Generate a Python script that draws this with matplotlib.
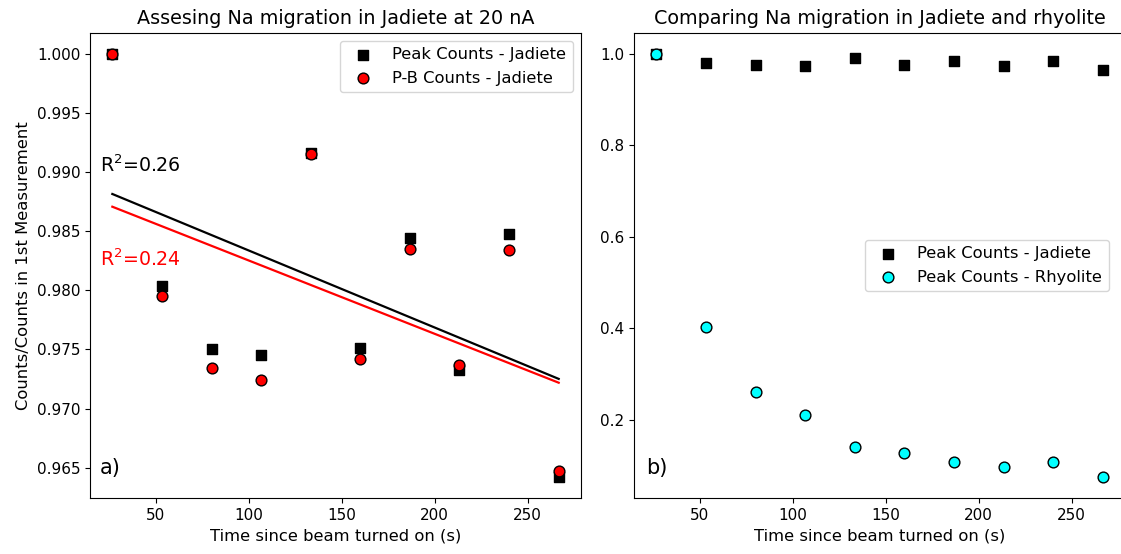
import numpy as np
import matplotlib
matplotlib.use("Agg")
import matplotlib.pyplot as plt

# Time since the beam was turned on (s)
time_s = [26.67, 53.33, 80.0, 106.67, 133.33, 160.0, 186.67, 213.33, 240.0, 266.67]

# Normalised counts (counts / counts in 1st measurement)
peak_jadiete = [1.0000, 0.9804, 0.9750, 0.9745, 0.9916, 0.9751, 0.9844, 0.9733, 0.9848, 0.9642]
pb_jadiete = [1.0000, 0.9795, 0.9734, 0.9724, 0.9915, 0.9742, 0.9835, 0.9737, 0.9834, 0.9647]
peak_rhyolite = [1.000, 0.402, 0.261, 0.211, 0.139, 0.126, 0.107, 0.097, 0.107, 0.074]

r2_peak_label = "R$^2$=0.26"
r2_pb_label = "R$^2$=0.24"

TITLE_FS = 13.8
LABEL_FS = 11.8
LEGEND_FS = 11.8
TICK_FS = 11

fig = plt.figure(figsize=(11.21, 5.54), dpi=100)
ax1 = fig.add_axes([0.0803, 0.1005, 0.438, 0.8405])
ax2 = fig.add_axes([0.5656, 0.1005, 0.438, 0.8405])

t = np.array(time_s)

# Panel a: peak vs peak-minus-background counts with linear fits
ax1.scatter(time_s, peak_jadiete, marker="s", s=60, color="black",
            edgecolors="black", label="Peak Counts - Jadiete", zorder=3)
ax1.scatter(time_s, pb_jadiete, marker="o", s=60, facecolors="red",
            edgecolors="black", label="P-B Counts - Jadiete", zorder=4)

for vals, col in ((peak_jadiete, "black"), (pb_jadiete, "red")):
    slope, intercept = np.polyfit(t, np.array(vals), 1)
    ax1.plot(t, slope * t + intercept, color=col, lw=1.6, zorder=2)

ax1.text(0.02, 0.70, r2_peak_label, transform=ax1.transAxes, fontsize=13.7,
         color="black")
ax1.text(0.02, 0.50, r2_pb_label, transform=ax1.transAxes, fontsize=13.7,
         color="red")
ax1.text(0.02, 0.053, "a)", transform=ax1.transAxes, fontsize=15)

ax1.set_title("Assesing Na migration in Jadiete at 20 nA", fontsize=TITLE_FS)
ax1.set_xlabel("Time since beam turned on (s)", fontsize=LABEL_FS)
ax1.set_ylabel("Counts/Counts in 1st Measurement", fontsize=LABEL_FS)
ax1.legend(loc="upper right", fontsize=LEGEND_FS)
ax1.tick_params(labelsize=TICK_FS)

# Panel b: jadeite vs rhyolite peak counts
ax2.scatter(time_s, peak_jadiete, marker="s", s=60, color="black",
            edgecolors="black", label="Peak Counts - Jadiete", zorder=3)
ax2.scatter(time_s, peak_rhyolite, marker="o", s=60, facecolors="cyan",
            edgecolors="black", label="Peak Counts - Rhyolite", zorder=4)
ax2.text(0.025, 0.053, "b)", transform=ax2.transAxes, fontsize=15)
ax2.set_title("Comparing Na migration in Jadiete and rhyolite", fontsize=TITLE_FS)
ax2.set_xlabel("Time since beam turned on (s)", fontsize=LABEL_FS)
ax2.legend(loc="center right", bbox_to_anchor=(0.967, 0.5), borderaxespad=0,
           fontsize=LEGEND_FS)
ax2.tick_params(labelsize=TICK_FS)

fig.savefig("out.png", dpi=100)
